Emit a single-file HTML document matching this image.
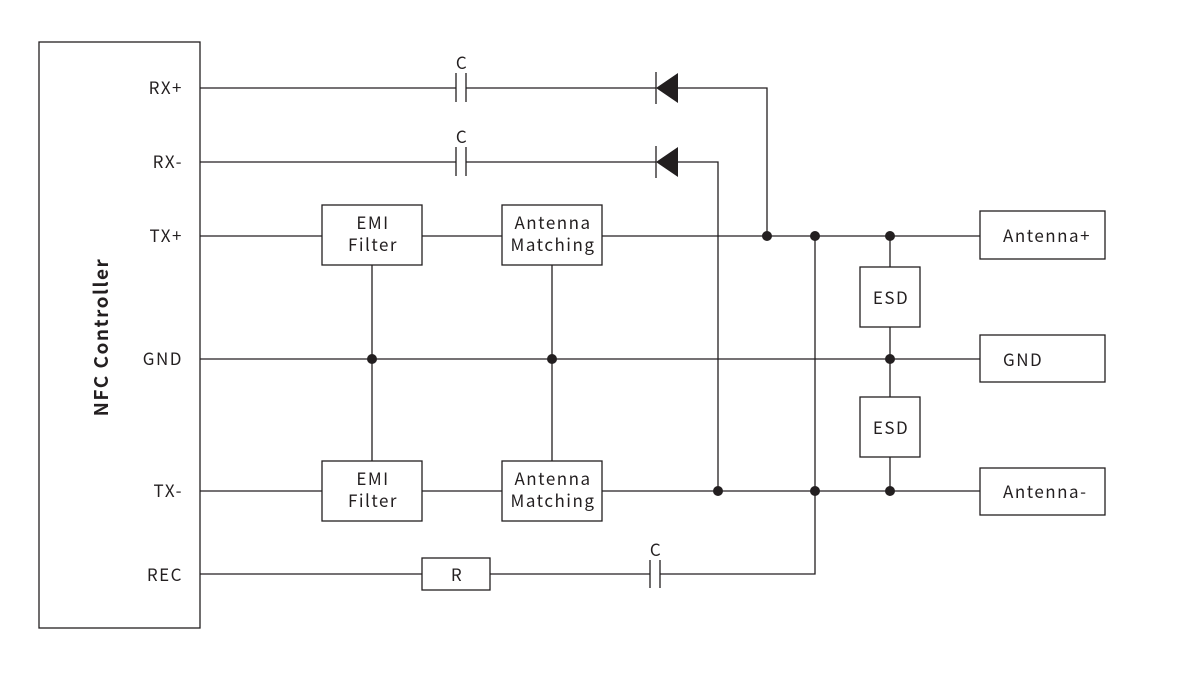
<!DOCTYPE html>
<html><head><style>body{margin:0;background:#fff}svg{display:block}text{font-family:"Noto Sans CJK SC","Liberation Sans",sans-serif;fill:#231f20}</style></head>
<body>
<svg width="1200" height="676" viewBox="0 0 1200 676" xmlns="http://www.w3.org/2000/svg">
<g stroke="#231f20" stroke-width="1.3" fill="none">
<rect x="39" y="42" width="161" height="586"/>
<path d="M200 88H456M466 88H656M678 88H767V236"/>
<path d="M456 73V102M466 73V102M656 72V104"/>
<path d="M200 162H456M466 162H656M678 162H718V491"/>
<path d="M456 147V176M466 147V176M656 146V178"/>
<path d="M200 236H322M422 236H502M602 236H980"/>
<rect x="322" y="205" width="100" height="60"/>
<rect x="502" y="205" width="100" height="60"/>
<path d="M200 359H980M372 265V461M552 265V461"/>
<path d="M200 491H322M422 491H502M602 491H980"/>
<rect x="322" y="461" width="100" height="60"/>
<rect x="502" y="461" width="100" height="60"/>
<path d="M890 236V267M890 327V397M890 457V491"/>
<rect x="860" y="267" width="60" height="60"/>
<rect x="860" y="397" width="60" height="60"/>
<rect x="980" y="211" width="125" height="48"/>
<rect x="980" y="335" width="125" height="47"/>
<rect x="980" y="468" width="125" height="47"/>
<path d="M200 574H422M490 574H650M660 574H815V236"/>
<rect x="422" y="558" width="68" height="32"/>
<path d="M650 560V588M660 560V588"/>
</g>
<g fill="#231f20">
<path d="M656 88L678 73V103Z"/>
<path d="M656 162L678 147V177Z"/>
<circle cx="767" cy="236" r="5"/><circle cx="815" cy="236" r="5"/><circle cx="890" cy="236" r="5"/>
<circle cx="372" cy="359" r="5"/><circle cx="552" cy="359" r="5"/><circle cx="890" cy="359" r="5"/>
<circle cx="718" cy="491" r="5"/><circle cx="815" cy="491" r="5"/><circle cx="890" cy="491" r="5"/>
</g>
<g font-size="17" letter-spacing="1.5" text-anchor="end">
<text x="183" y="94">RX+</text><text x="183" y="168">RX-</text><text x="183" y="242">TX+</text>
<text x="183" y="365">GND</text><text x="183" y="497">TX-</text><text x="183" y="581">REC</text>
</g>
<text x="0" y="0" font-size="19" font-weight="bold" letter-spacing="1.5" text-anchor="middle" transform="translate(108,337) rotate(-90)">NFC Controller</text>
<g font-size="17" letter-spacing="1.5" text-anchor="middle">
<text x="462" y="69">C</text><text x="462" y="143">C</text><text x="656" y="556">C</text>
<text x="373" y="229">EMI</text><text x="373" y="251">Filter</text>
<text x="553" y="229">Antenna</text><text x="553" y="251">Matching</text>
<text x="373" y="485">EMI</text><text x="373" y="507">Filter</text>
<text x="553" y="485">Antenna</text><text x="553" y="507">Matching</text>
<text x="891" y="304">ESD</text><text x="891" y="434">ESD</text>
<text x="457" y="581">R</text>
</g>
<g font-size="17" letter-spacing="1.5">
<text x="1003" y="242">Antenna+</text><text x="1003" y="366">GND</text><text x="1003" y="498">Antenna-</text>
</g>
</svg>
</body></html>
